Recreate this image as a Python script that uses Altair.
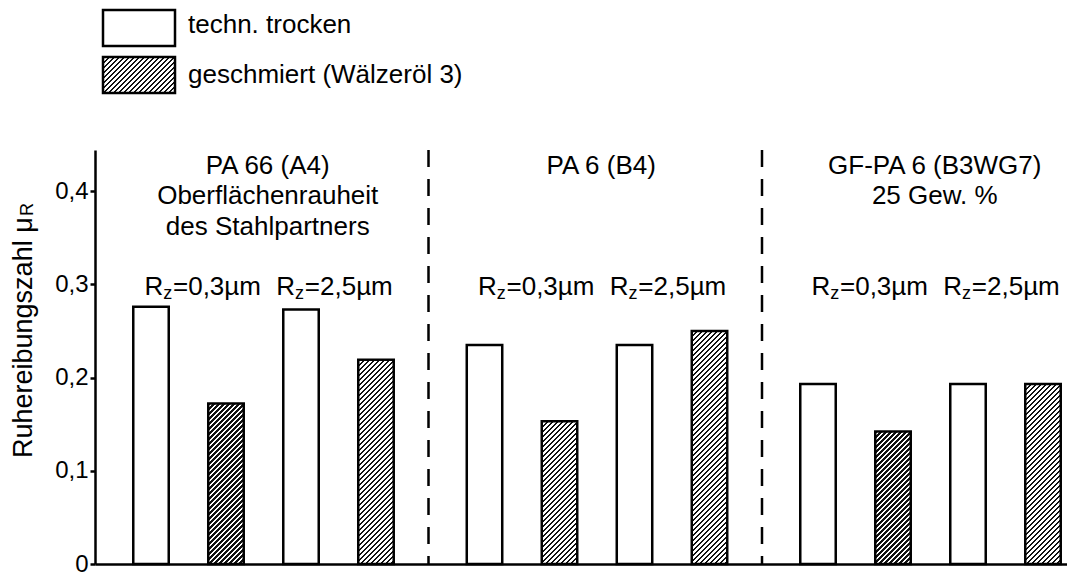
import altair as alt
import pandas as pd

# ---------------- data ----------------
materials = ["PA 66 (A4)", "PA 6 (B4)", "GF-PA 6 (B3WG7)"]
group_titles = ["PA 66 (A4)\nOberflächenrauheit\ndes Stahlpartners",
                "PA 6 (B4)",
                "GF-PA 6 (B3WG7)\n25 Gew. %"]
roughness = ["0,3", "2,5"]
conditions = ["techn. trocken", "geschmiert (Wälzeröl 3)"]
# order: material x roughness
dry_values = [0.276, 0.273, 0.235, 0.235, 0.193, 0.193]
lub_values = [0.172, 0.219, 0.153, 0.250, 0.142, 0.193]
y_ticks = [0, 0.1, 0.2, 0.3, 0.4]

# ---------------- layout / style ----------------
FONT = "Liberation Sans"
PLOT_W, PLOT_H = 972, 414
Y_MAX = 0.444
PX_PER_UNIT = PLOT_H / Y_MAX
GROUP_STEP = 333.5
BAR_W = 35.5
SW = 2.5

rows = []
slots = []
for gi, m in enumerate(materials):
    for ri, rz in enumerate(roughness):
        for ci, c in enumerate(conditions):
            v = dry_values[gi * 2 + ri] if ci == 0 else lub_values[gi * 2 + ri]
            s = f"{rz}|{ci}"
            if s not in slots:
                slots.append(s)
            rows.append(dict(material=m, rz=rz, cond=c, value=v, slot=s))
df = pd.DataFrame(rows)


def hatch(w, h, period=5.0, frac=0.45):
    L = w + h
    n = L / period
    stops = []
    k = 0
    while k < n:
        a = k / n
        b = min((k + frac) / n, 1.0)
        c = min((k + 1) / n, 1.0)
        stops += [{"offset": a, "color": "#111111"},
                  {"offset": b, "color": "#111111"},
                  {"offset": b, "color": "#ffffff"},
                  {"offset": c, "color": "#ffffff"}]
        k += 1
    d = w * w + h * h
    return {"gradient": "linear", "x1": 0, "y1": 0,
            "x2": w * L / d, "y2": h * L / d, "stops": stops}


x_enc = alt.X("material:N",
              scale=alt.Scale(domain=materials, range=[0, 3 * GROUP_STEP],
                              paddingInner=0, paddingOuter=0),
              axis=alt.Axis(labels=False, ticks=False, title=None,
                            domainColor="black", domainWidth=SW, grid=False))
xoff_enc = alt.XOffset("slot:N",
                       scale=alt.Scale(domain=slots, range=[18.5, 318.5],
                                       paddingInner=0.527, paddingOuter=0.2635))
y_enc = alt.Y("value:Q",
              scale=alt.Scale(domain=[0, Y_MAX], nice=False, zero=True),
              axis=alt.Axis(values=y_ticks, title=None, grid=False,
                            labelExpr="datum.value == 0 ? '0' : replace(format(datum.value, '.1f'), '.', ',')",
                            labelFont=FONT, labelFontSize=24, labelColor="black",
                            labelPadding=2, tickSize=5, tickWidth=SW, tickColor="black",
                            domainColor="black", domainWidth=SW))

base = alt.Chart(df)
layers = []

# white (dry) bars
layers.append(base.mark_bar(fill="white", stroke="black", strokeWidth=SW)
              .encode(x=x_enc, xOffset=xoff_enc, y=y_enc)
              .transform_filter(alt.datum.cond == conditions[0]))

# hatched (lubricated) bars, each with a hatch fitted to its size
for gi, m in enumerate(materials):
    for ri, rz in enumerate(roughness):
        v = lub_values[gi * 2 + ri]
        g = hatch(BAR_W, v * PX_PER_UNIT)
        layers.append(base.mark_bar(fill=g, stroke="black", strokeWidth=SW)
                      .encode(x=x_enc, xOffset=xoff_enc, y=y_enc)
                      .transform_filter((alt.datum.material == m) & (alt.datum.rz == rz)
                                        & (alt.datum.cond == conditions[1])))

# dashed separators between material groups
sep_df = pd.DataFrame({"material": materials[1:]})
layers.append(alt.Chart(sep_df).mark_rule(stroke="black", strokeWidth=SW, strokeDash=[17, 12])
              .encode(x=alt.X("material:N", bandPosition=0), y=alt.value(0), y2=alt.value(PLOT_H)))

# group titles
title_df = pd.DataFrame({"material": materials, "title": group_titles})
layers.append(alt.Chart(title_df).mark_text(lineBreak="\n", font=FONT, fontSize=26, lineHeight=30.5,
                                            baseline="alphabetic", align="center", dx=6, color="black")
              .encode(x="material:N", y=alt.value(23.5), text="title:N"))

# roughness labels  R_z=...µm
rz_rows = []
for m in materials:
    for ri, rz in enumerate(roughness):
        rz_rows.append(dict(material=m, rz=rz, rest=f"={rz}µm", R="R", z="z"))
rz_df = pd.DataFrame(rz_rows)
RZ_Y = 144.5
for ri, rz in enumerate(roughness):
    start = [-117.25, 14.55][ri]
    sub = alt.Chart(rz_df).transform_filter(alt.datum.rz == rz)
    layers.append(sub.mark_text(font=FONT, fontSize=26, align="left", baseline="alphabetic",
                                dx=start, color="black")
                  .encode(x="material:N", y=alt.value(RZ_Y), text="R:N"))
    layers.append(sub.mark_text(font=FONT, fontSize=18, align="left", baseline="alphabetic",
                                dx=start + 18.8, dy=4, color="black")
                  .encode(x="material:N", y=alt.value(RZ_Y), text="z:N"))
    layers.append(sub.mark_text(font=FONT, fontSize=26, align="left", baseline="alphabetic",
                                dx=start + 28.5, color="black")
                  .encode(x="material:N", y=alt.value(RZ_Y), text="rest:N"))

# legend (custom)
leg_df = pd.DataFrame({"cond": conditions})
leg0 = alt.Chart(leg_df).transform_filter(alt.datum.cond == conditions[0])
leg1 = alt.Chart(leg_df).transform_filter(alt.datum.cond == conditions[1])
layers.append(leg0.mark_rect(fill="white", stroke="black", strokeWidth=SW)
              .encode(x=alt.value(8), x2=alt.value(80), y=alt.value(-140), y2=alt.value(-104)))
layers.append(leg1.mark_rect(fill=hatch(72, 36), stroke="black", strokeWidth=SW)
              .encode(x=alt.value(8), x2=alt.value(80), y=alt.value(-93), y2=alt.value(-57)))
layers.append(leg0.mark_text(font=FONT, fontSize=26, align="left", baseline="alphabetic", color="black")
              .encode(x=alt.value(93), y=alt.value(-117), text="cond:N"))
layers.append(leg1.mark_text(font=FONT, fontSize=26, align="left", baseline="alphabetic", color="black")
              .encode(x=alt.value(93), y=alt.value(-67), text="cond:N"))

# y-axis title  Ruhereibungszahl µ_R
yt_df = pd.DataFrame({"main": ["Ruhereibungszahl μ"], "sub": ["R"]})
layers.append(alt.Chart(yt_df).mark_text(font=FONT, fontSize=27, angle=270, align="left",
                                         baseline="middle", color="black")
              .encode(x=alt.value(-71), y=alt.value(308), text="main:N"))
layers.append(alt.Chart(yt_df).mark_text(font=FONT, fontSize=18, angle=270, align="left",
                                         baseline="middle", color="black")
              .encode(x=alt.value(-67), y=alt.value(308 - 242), text="sub:N"))

chart = alt.layer(*layers).properties(
    width=PLOT_W, height=PLOT_H,
    autosize=alt.AutoSizeParams(type="none"),
    padding={"left": 87, "top": 142, "right": 0, "bottom": 12},
    background="white",
).configure_view(stroke=None)

chart.save("out.html", embed_options={"renderer": "svg", "actions": False})
